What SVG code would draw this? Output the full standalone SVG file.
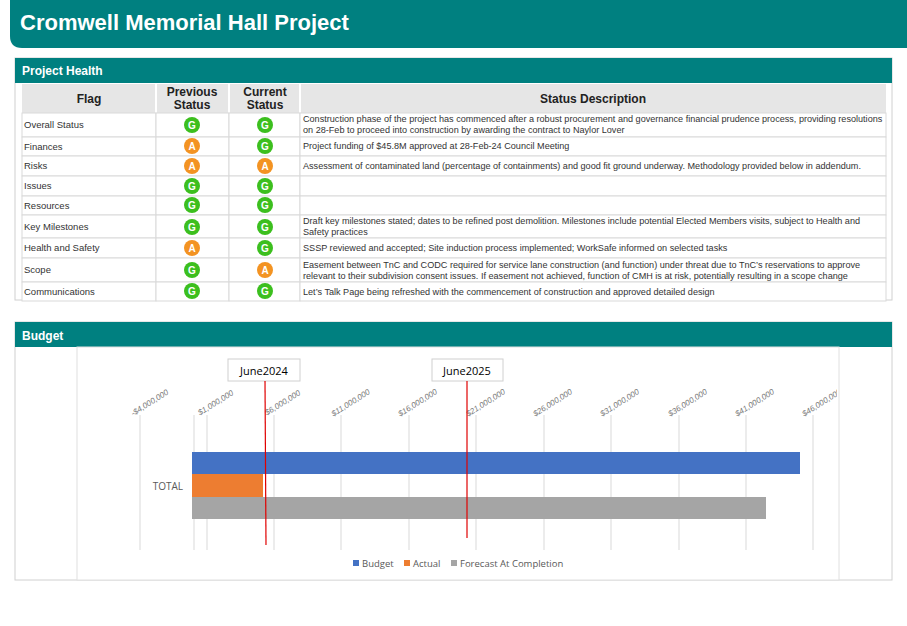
<svg xmlns="http://www.w3.org/2000/svg" width="907" height="626" viewBox="0 0 907 626">
<style>
.hdr{fill:#fff;font-family:"Liberation Sans",Arial,sans-serif;font-weight:bold}
.th{font-family:"Liberation Sans",Arial,sans-serif;font-weight:bold;font-size:12px;fill:#222;text-anchor:middle}
.td{font-family:"Liberation Sans",Arial,sans-serif;font-size:9.5px;fill:#333}
.ds{font-family:"Liberation Sans",Arial,sans-serif;font-size:9.1px;fill:#333}
.cell{fill:#fff;stroke:#d9d9d9;stroke-width:1}
.g{fill:#3cbf1e}.a{fill:#f39322}
.badge{font-family:"Liberation Sans",Arial,sans-serif;font-weight:bold;font-size:10px;fill:#fff;text-anchor:middle}
.tick{font-family:"Liberation Sans",Arial,sans-serif;font-size:8px;fill:#777;font-style:italic;text-anchor:middle}
.grid{stroke:#d9d9d9;stroke-width:1}
.lg{font-family:"Open Sans",sans-serif;font-size:9.5px;fill:#595959}
</style>
<rect width="907" height="626" fill="#fff"/>
<g id="title">
<path d="M10 0H907V48H22Q10 48 10 36Z" fill="#008080"/>
<text x="20" y="30" class="hdr" font-size="22">Cromwell Memorial Hall Project</text>
</g>
<g id="health">
<rect x="15" y="58" width="877" height="242" fill="#fff" stroke="#d0d0d0"/>
<rect x="15" y="58" width="877" height="25" fill="#008080"/>
<text x="22" y="75" class="hdr" font-size="12">Project Health</text>
<rect x="22" y="84" width="864" height="29" fill="#e6e6e6"/>
<g stroke="#fff" stroke-width="2"><line x1="156" y1="84" x2="156" y2="113"/><line x1="229" y1="84" x2="229" y2="113"/><line x1="300" y1="84" x2="300" y2="113"/></g>
<text x="89" y="103" class="th">Flag</text>
<text x="192" y="96" class="th">Previous</text><text x="192" y="109" class="th">Status</text>
<text x="265" y="96" class="th">Current</text><text x="265" y="109" class="th">Status</text>
<text x="593" y="103" class="th">Status Description</text>
<g id="rows">
<g><rect class="cell" x="22" y="113" width="134" height="24"/><rect class="cell" x="156" y="113" width="73" height="24"/><rect class="cell" x="229" y="113" width="71" height="24"/><rect class="cell" x="300" y="113" width="586" height="24"/></g>
<g><rect class="cell" x="22" y="137" width="134" height="19"/><rect class="cell" x="156" y="137" width="73" height="19"/><rect class="cell" x="229" y="137" width="71" height="19"/><rect class="cell" x="300" y="137" width="586" height="19"/></g>
<g><rect class="cell" x="22" y="156" width="134" height="20"/><rect class="cell" x="156" y="156" width="73" height="20"/><rect class="cell" x="229" y="156" width="71" height="20"/><rect class="cell" x="300" y="156" width="586" height="20"/></g>
<g><rect class="cell" x="22" y="176" width="134" height="20"/><rect class="cell" x="156" y="176" width="73" height="20"/><rect class="cell" x="229" y="176" width="71" height="20"/><rect class="cell" x="300" y="176" width="586" height="20"/></g>
<g><rect class="cell" x="22" y="196" width="134" height="19"/><rect class="cell" x="156" y="196" width="73" height="19"/><rect class="cell" x="229" y="196" width="71" height="19"/><rect class="cell" x="300" y="196" width="586" height="19"/></g>
<g><rect class="cell" x="22" y="215" width="134" height="23"/><rect class="cell" x="156" y="215" width="73" height="23"/><rect class="cell" x="229" y="215" width="71" height="23"/><rect class="cell" x="300" y="215" width="586" height="23"/></g>
<g><rect class="cell" x="22" y="238" width="134" height="20"/><rect class="cell" x="156" y="238" width="73" height="20"/><rect class="cell" x="229" y="238" width="71" height="20"/><rect class="cell" x="300" y="238" width="586" height="20"/></g>
<g><rect class="cell" x="22" y="258" width="134" height="24"/><rect class="cell" x="156" y="258" width="73" height="24"/><rect class="cell" x="229" y="258" width="71" height="24"/><rect class="cell" x="300" y="258" width="586" height="24"/></g>
<g><rect class="cell" x="22" y="282" width="134" height="19"/><rect class="cell" x="156" y="282" width="73" height="19"/><rect class="cell" x="229" y="282" width="71" height="19"/><rect class="cell" x="300" y="282" width="586" height="19"/></g>
</g>
<g id="flags">
<text x="24" y="128" class="td">Overall Status</text>
<text x="24" y="150" class="td">Finances</text>
<text x="24" y="169" class="td">Risks</text>
<text x="24" y="189" class="td">Issues</text>
<text x="24" y="209" class="td">Resources</text>
<text x="24" y="230" class="td">Key Milestones</text>
<text x="24" y="251" class="td">Health and Safety</text>
<text x="24" y="273" class="td">Scope</text>
<text x="24" y="295" class="td">Communications</text>
</g>
<g id="badges">
<circle class="g" cx="192" cy="125" r="8"/><text class="badge" x="192" y="129">G</text>
<circle class="g" cx="265" cy="125" r="8"/><text class="badge" x="265" y="129">G</text>
<circle class="a" cx="192" cy="146" r="8"/><text class="badge" x="192" y="150">A</text>
<circle class="g" cx="265" cy="146" r="8"/><text class="badge" x="265" y="150">G</text>
<circle class="a" cx="192" cy="166" r="8"/><text class="badge" x="192" y="170">A</text>
<circle class="a" cx="265" cy="166" r="8"/><text class="badge" x="265" y="170">A</text>
<circle class="g" cx="192" cy="186" r="8"/><text class="badge" x="192" y="190">G</text>
<circle class="g" cx="265" cy="186" r="8"/><text class="badge" x="265" y="190">G</text>
<circle class="g" cx="192" cy="205" r="8"/><text class="badge" x="192" y="209">G</text>
<circle class="g" cx="265" cy="205" r="8"/><text class="badge" x="265" y="209">G</text>
<circle class="g" cx="192" cy="227" r="8"/><text class="badge" x="192" y="231">G</text>
<circle class="g" cx="265" cy="227" r="8"/><text class="badge" x="265" y="231">G</text>
<circle class="a" cx="192" cy="248" r="8"/><text class="badge" x="192" y="252">A</text>
<circle class="g" cx="265" cy="248" r="8"/><text class="badge" x="265" y="252">G</text>
<circle class="g" cx="192" cy="270" r="8"/><text class="badge" x="192" y="274">G</text>
<circle class="a" cx="265" cy="270" r="8"/><text class="badge" x="265" y="274">A</text>
<circle class="g" cx="192" cy="291" r="8"/><text class="badge" x="192" y="295">G</text>
<circle class="g" cx="265" cy="291" r="8"/><text class="badge" x="265" y="295">G</text>
</g>
<g id="desc">
<text x="303" y="122" class="ds">Construction phase of the project has commenced after a robust procurement and governance financial prudence process, providing resolutions</text>
<text x="303" y="133" class="ds">on 28-Feb to proceed into construction by awarding the contract to Naylor Lover</text>
<text x="303" y="149" class="ds">Project funding of $45.8M approved at 28-Feb-24 Council Meeting</text>
<text x="303" y="169" class="ds">Assessment of contaminated land (percentage of containments) and good fit ground underway. Methodology provided below in addendum.</text>
<text x="303" y="224" class="ds">Draft key milestones stated; dates to be refined post demolition. Milestones include potential Elected Members visits, subject to Health and</text>
<text x="303" y="235" class="ds">Safety practices</text>
<text x="303" y="251" class="ds">SSSP reviewed and accepted; Site induction process implemented; WorkSafe informed on selected tasks</text>
<text x="303" y="268" class="ds">Easement between TnC and CODC required for service lane construction (and function) under threat due to TnC’s reservations to approve</text>
<text x="303" y="279" class="ds">relevant to their subdivision consent issues. If easement not achieved, function of CMH is at risk, potentially resulting in a scope change</text>
<text x="303" y="295" class="ds">Let’s Talk Page being refreshed with the commencement of construction and approved detailed design</text>
</g>
</g>
<g id="budget">
<rect x="15" y="322" width="877" height="258" fill="#fff" stroke="#d0d0d0"/>
<rect x="15" y="322" width="877" height="25" fill="#008080"/>
<text x="22" y="340" class="hdr" font-size="12">Budget</text>
<rect x="77" y="347" width="762" height="233" fill="#fff" stroke="#e0e0e0"/>
<clipPath id="cc"><rect x="77" y="347" width="760" height="233"/></clipPath>
<g id="grid" class="grid">
<line x1="140" y1="415" x2="140" y2="550"/><line x1="194" y1="415" x2="194" y2="550"/>
<line x1="207" y1="415" x2="207" y2="550"/><line x1="274" y1="415" x2="274" y2="550"/>
<line x1="341" y1="415" x2="341" y2="550"/><line x1="409" y1="415" x2="409" y2="550"/>
<line x1="476" y1="415" x2="476" y2="550"/><line x1="544" y1="415" x2="544" y2="550"/>
<line x1="611" y1="415" x2="611" y2="550"/><line x1="679" y1="415" x2="679" y2="550"/>
<line x1="746" y1="415" x2="746" y2="550"/><line x1="813" y1="415" x2="813" y2="550"/>
</g>
<g id="ticks" clip-path="url(#cc)">
<text class="tick" transform="translate(151,405) rotate(-32)">-$4,000,000</text>
<text class="tick" transform="translate(217,405) rotate(-32)">$1,000,000</text>
<text class="tick" transform="translate(284,405) rotate(-32)">$6,000,000</text>
<text class="tick" transform="translate(352,405) rotate(-32)">$11,000,000</text>
<text class="tick" transform="translate(419,405) rotate(-32)">$16,000,000</text>
<text class="tick" transform="translate(487,405) rotate(-32)">$21,000,000</text>
<text class="tick" transform="translate(554,405) rotate(-32)">$26,000,000</text>
<text class="tick" transform="translate(621,405) rotate(-32)">$31,000,000</text>
<text class="tick" transform="translate(689,405) rotate(-32)">$36,000,000</text>
<text class="tick" transform="translate(756,405) rotate(-32)">$41,000,000</text>
<text class="tick" transform="translate(823,405) rotate(-32)">$46,000,000</text>
</g>
<g id="bars">
<rect x="192" y="452" width="608" height="22" fill="#4472c4"/>
<rect x="192" y="474" width="71" height="23" fill="#ed7d31"/>
<rect x="192" y="497" width="574" height="22" fill="#a5a5a5"/>
<text x="183" y="490" font-family="Open Sans,sans-serif" font-size="10" fill="#595959" text-anchor="end">TOTAL</text>
</g>
<g id="markers">
<rect x="228" y="359" width="72" height="22" fill="#fff" stroke="#d0d0d0"/>
<text x="264" y="375" font-family="Open Sans,sans-serif" font-size="11" fill="#000" text-anchor="middle">June2024</text>
<rect x="432" y="359" width="71" height="22" fill="#fff" stroke="#d0d0d0"/>
<text x="467" y="375" font-family="Open Sans,sans-serif" font-size="11" fill="#000" text-anchor="middle">June2025</text>
<line x1="265" y1="381" x2="266" y2="545" stroke="#e00000" stroke-width="1.2"/>
<line x1="467" y1="381" x2="467" y2="538" stroke="#e00000" stroke-width="1.2"/>
</g>
<g id="legend">
<rect x="353" y="560" width="6" height="6" fill="#4472c4"/><text class="lg" x="362" y="567">Budget</text>
<rect x="404" y="560" width="6" height="6" fill="#ed7d31"/><text class="lg" x="413" y="567">Actual</text>
<rect x="451" y="560" width="6" height="6" fill="#a5a5a5"/><text class="lg" x="460" y="567">Forecast At Completion</text>
</g>
</g>
</svg>
